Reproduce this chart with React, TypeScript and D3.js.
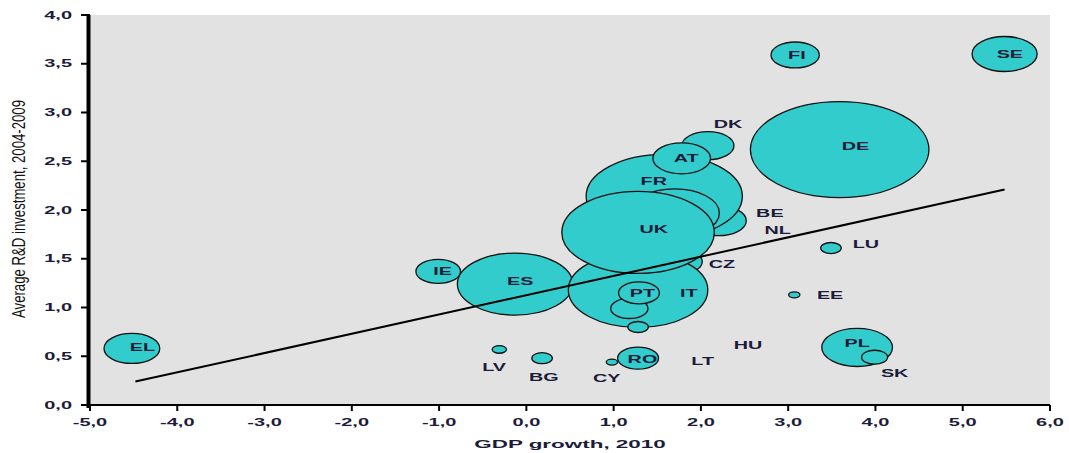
import React from "react";
import * as d3 from "d3";

// ---- data ----
const countries = ["BE","BG","CZ","DK","DE","EE","IE","EL","ES","FR","IT","CY","LV","LT","LU","HU","NL","AT","PL","PT","RO","SK","FI","SE","UK"];
const gdpGrowth = [2.20,0.18,1.76,2.08,3.59,3.07,-1.01,-4.52,-0.13,1.58,1.28,0.98,-0.31,1.28,3.49,1.18,1.70,1.78,3.79,1.29,1.28,3.99,3.08,5.48,1.28];
const rdInvest = [1.89,0.48,1.47,2.66,2.62,1.13,1.37,0.58,1.24,2.14,1.18,0.44,0.57,0.80,1.61,0.99,1.97,2.53,0.59,1.15,0.48,0.49,3.59,3.60,1.77];
const bubbleSize = [244,33,156,213,2500,10,156,244,1043,1914,1526,10,16,33,33,109,625,261,392,131,131,53,183,332,1824];
const labelX = [2.79,0.20,2.24,2.31,3.77,3.48,-0.96,-4.40,-0.07,1.46,1.86,0.92,-0.37,2.02,3.89,2.54,2.88,1.83,3.79,1.33,1.33,4.22,3.10,5.54,1.46];
const labelY = [1.97,0.29,1.45,2.88,2.66,1.13,1.37,0.59,1.27,2.30,1.15,0.28,0.39,0.45,1.65,0.62,1.79,2.53,0.64,1.15,0.47,0.33,3.59,3.60,1.81];
const trendX = [-4.48, 5.48];
const trendY = [0.24, 2.21];
const xTicks = [-5,-4,-3,-2,-1,0,1,2,3,4,5,6];
const yTicks = [0,0.5,1,1.5,2,2.5,3,3.5,4];
const xTitle = "GDP growth, 2010";
const yTitle = "Average R&D investment, 2004-2009";

const W = 1069, H = 453;
const PL_ = 90, PR_ = 1050, PT_ = 15, PB_ = 405;

export default function App() {
  const x = d3.scaleLinear().domain([-5, 6]).range([PL_, PR_]);
  const y = d3.scaleLinear().domain([0, 4]).range([PB_, PT_]);
  const r = d3.scaleSqrt().domain([0, 2500]).range([0, 48]);
  const ASPECT = 1.86;
  const fmt = (v: number) => v.toFixed(1).replace(".", ",");
  const line = d3.line<number>().x((_, i) => x(trendX[i])).y((_, i) => y(trendY[i]));
  const txtColor = "#1c1c3a";
  const font = "'Liberation Sans', Arial, sans-serif";

  return (
    <svg width={W} height={H} style={{ position: "absolute", left: 0, top: 0, background: "#fff" }}>
      <rect x={PL_} y={PT_} width={PR_ - PL_} height={PB_ - PT_} fill="#e2e2e2" />
      {countries.map((c, i) => {
        const ry = r(bubbleSize[i]);
        return (
          <ellipse key={c} cx={x(gdpGrowth[i])} cy={y(rdInvest[i])} rx={ry * ASPECT} ry={ry}
            fill="#33cccc" stroke="#111" strokeWidth={1.3} />
        );
      })}
      <path d={line([0, 1]) || ""} fill="none" stroke="#000" strokeWidth={2} />
      {countries.map((c, i) => (
        <text key={"l" + c} transform={`translate(${x(labelX[i])},${y(labelY[i]) + 4}) scale(1.8,1)`}
          textAnchor="middle" fontFamily={font} fontSize={11} fontWeight="bold" fill={txtColor}>{c}</text>
      ))}
      {/* x axis */}
      <line x1={PL_} x2={PR_} y1={PB_} y2={PB_} stroke="#000" strokeWidth={2} />
      {xTicks.map((t) => (
        <g key={"xt" + t}>
          <line x1={x(t)} x2={x(t)} y1={PB_} y2={PB_ + 6} stroke="#000" strokeWidth={2} />
          <text transform={`translate(${x(t)},${PB_ + 20.5}) scale(2,1)`} textAnchor="middle"
            fontFamily={font} fontSize={10} fontWeight="bold" fill={txtColor}>{fmt(t)}</text>
        </g>
      ))}
      {/* y axis */}
      <line x1={PL_ - 1.5} x2={PL_ - 1.5} y1={PT_} y2={PB_ + 3} stroke="#000" strokeWidth={4} />
      {yTicks.map((t) => (
        <g key={"yt" + t}>
          <line x1={PL_ - 9} x2={PL_} y1={y(t)} y2={y(t)} stroke="#000" strokeWidth={2} />
          <text transform={`translate(${72},${y(t) + 3.5}) scale(2,1)`} textAnchor="end"
            fontFamily={font} fontSize={10} fontWeight="bold" fill={txtColor}>{fmt(t)}</text>
        </g>
      ))}
      <text transform={`translate(570,448) scale(1.95,1)`} textAnchor="middle" fontFamily={font}
        fontSize={11.5} fontWeight="bold" fill={txtColor}>{xTitle}</text>
      <text transform={`translate(25,209) scale(1.3,1) rotate(-90)`} textAnchor="middle"
        fontFamily={font} fontSize={14}
        textLength={218} lengthAdjust="spacingAndGlyphs" fill="#111">{yTitle}</text>
    </svg>
  );
}
